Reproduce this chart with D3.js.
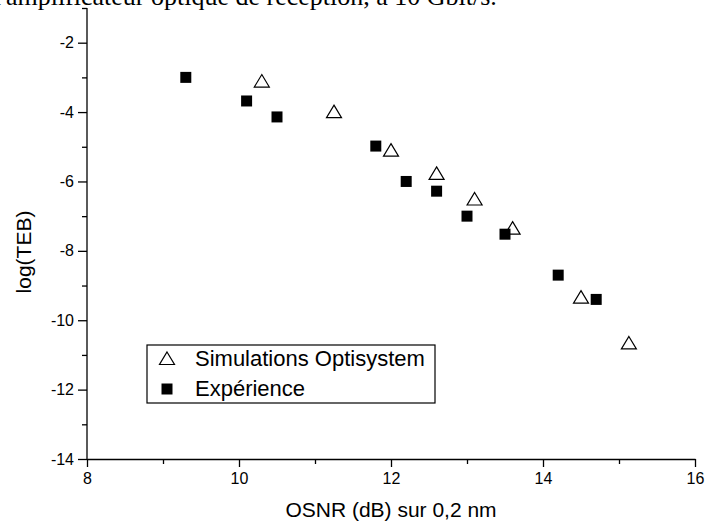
<!DOCTYPE html>
<html><head><meta charset="utf-8">
<script src="https://cdn.jsdelivr.net/npm/d3@7"></script>
<style>body{margin:0;background:#fff}svg{display:block}</style>
</head><body>
<svg id="c" width="706" height="527"></svg>
<script>
const simX = [10.3, 11.25, 12.0, 12.6, 13.1, 13.6, 14.5, 15.13];
const simY = [-3.12, -4.0, -5.11, -5.78, -6.52, -7.36, -9.35, -10.67];
const expX = [9.3, 10.1, 10.5, 11.8, 12.2, 12.6, 13.0, 13.5, 14.2, 14.7];
const expY = [-3.0, -3.68, -4.14, -4.98, -6.0, -6.28, -7.0, -7.52, -8.7, -9.4];
const xTicks = [8, 10, 12, 14, 16];
const yTicks = [-2, -4, -6, -8, -10, -12, -14];
const legendLabels = ["Simulations Optisystem", "Expérience"];

const svg = d3.select("#c");
const font = "'Liberation Sans', Arial, sans-serif";
const x = d3.scaleLinear().domain([8, 16]).range([87, 695]);
const y = d3.scaleLinear().domain([-14, -1]).range([459, 8]);
const fmt = d => String(d);

// caption text cut off at top
svg.append("text").attr("x", -6).attr("y", 5)
  .attr("font-family", "'Liberation Serif', 'Times New Roman', serif")
  .attr("font-size", 26).text("l'amplificateur optique de réception, à 10 Gbit/s.");

// x axis
const gx = svg.append("g").attr("transform", `translate(0,${y(-14)})`);
gx.call(d3.axisBottom(x).tickValues(d3.range(9, 16, 2)).tickSize(5).tickFormat(""));
gx.call(g => g.select(".domain").remove());
gx.selectAll("line").attr("stroke", "#000").attr("stroke-width", 1.3);
const gx2 = svg.append("g").attr("transform", `translate(0,${y(-14)})`)
  .call(d3.axisBottom(x).tickValues(xTicks).tickSize(8).tickSizeOuter(0).tickPadding(6).tickFormat(fmt));
gx2.selectAll("text").attr("font-family", font).attr("font-size", 16).attr("fill", "#000");
gx2.selectAll("line, path").attr("stroke", "#000").attr("stroke-width", 1.3);

// y axis
const gy = svg.append("g").attr("transform", `translate(${x(8)},0)`);
gy.call(d3.axisLeft(y).tickValues(d3.range(-13, 0, 2)).tickSize(5).tickFormat(""));
gy.call(g => g.select(".domain").remove());
gy.selectAll("line").attr("stroke", "#000").attr("stroke-width", 1.3);
const gy2 = svg.append("g").attr("transform", `translate(${x(8)},0)`)
  .call(d3.axisLeft(y).tickValues(yTicks).tickSize(9).tickSizeOuter(0).tickPadding(4).tickFormat(fmt));
gy2.selectAll("text").attr("font-family", font).attr("font-size", 16).attr("fill", "#000");
gy2.selectAll("line, path").attr("stroke", "#000").attr("stroke-width", 1.3);
gy2.select(".domain").attr("d", `M0,${y(-1)}V${y(-14)}`);

// titles
svg.append("text").attr("x", (x(8) + x(16)) / 2).attr("y", 517).attr("text-anchor", "middle")
  .attr("font-family", font).attr("font-size", 21).text("OSNR (dB) sur 0,2 nm");
svg.append("text").attr("transform", `translate(31,${252}) rotate(-90)`).attr("text-anchor", "middle")
  .attr("font-family", font).attr("font-size", 21).text("log(TEB)");

const tri = "M0,-7L7.5,5.5L-7.5,5.5Z";
const sq = "M-5.5,-5.5H5.5V5.5H-5.5Z";

svg.append("g").selectAll("path").data(expX.map((v, i) => [v, expY[i]])).join("path")
  .attr("transform", d => `translate(${x(d[0])},${y(d[1])})`).attr("d", sq).attr("fill", "#000");
svg.append("g").selectAll("path").data(simX.map((v, i) => [v, simY[i]])).join("path")
  .attr("transform", d => `translate(${x(d[0])},${y(d[1])})`).attr("d", tri)
  .attr("fill", "none").attr("stroke", "#000").attr("stroke-width", 1.2);

// legend
const lg = svg.append("g");
lg.append("rect").attr("x", 147).attr("y", 345).attr("width", 288).attr("height", 58)
  .attr("fill", "#fff").attr("stroke", "#000").attr("stroke-width", 1.2);
lg.append("path").attr("transform", "translate(167,359)").attr("d", tri).attr("fill", "none").attr("stroke", "#000").attr("stroke-width", 1.2);
lg.append("path").attr("transform", "translate(167,389)").attr("d", sq).attr("fill", "#000");
legendLabels.forEach((t, i) => {
  lg.append("text").attr("x", 195).attr("y", 366 + i * 30).attr("font-family", font).attr("font-size", 22).text(t);
});
</script>
</body></html>
